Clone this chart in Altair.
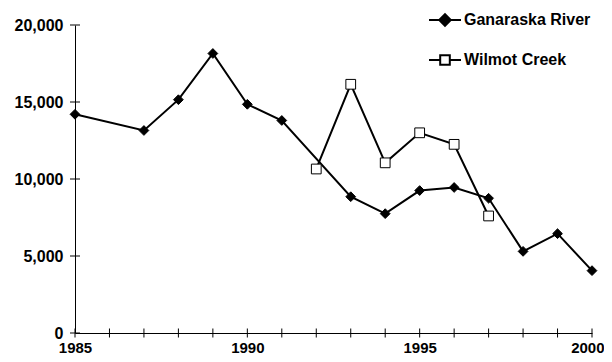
import altair as alt
import pandas as pd

# Data
gan_years = [1985, 1987, 1988, 1989, 1990, 1991, 1993, 1994, 1995, 1996, 1997, 1998, 1999, 2000]
gan_values = [14200, 13150, 15150, 18150, 14850, 13800, 8850, 7750, 9250, 9450, 8750, 5300, 6450, 4050]
wil_years = [1992, 1993, 1994, 1995, 1996, 1997]
wil_values = [10650, 16150, 11050, 13000, 12250, 7600]
series_names = ["Ganaraska River", "Wilmot Creek"]
x_tick_years = list(range(1985, 2001))
x_label_years = [1985, 1990, 1995, 2000]
y_tick_values = [0, 5000, 10000, 15000, 20000]

df = pd.concat([
    pd.DataFrame({"year": gan_years, "value": gan_values, "series": series_names[0]}),
    pd.DataFrame({"year": wil_years, "value": wil_values, "series": series_names[1]}),
])

FONT = "Liberation Sans"

x_scale = alt.Scale(domain=[1985, 2000], nice=False, zero=False)
y_scale = alt.Scale(domain=[0, 20000], nice=False)

x_axis = alt.Axis(values=x_label_years, format="d", ticks=False, labelPadding=7,
                  title=None, grid=False,
                  labelAlign={"condition": {"test": "datum.value == 2000", "value": "right"},
                              "value": "center"},
                  labelOffset={"condition": {"test": "datum.value == 2000", "value": 12},
                               "value": 0})
y_axis = alt.Axis(values=y_tick_values, format=",.0f", ticks=False, labelPadding=12,
                  title=None, grid=False, labelFontSize=16)

x_enc = alt.X("year:Q", scale=x_scale, axis=x_axis, title=None)
y_enc = alt.Y("value:Q", scale=y_scale, axis=y_axis, title=None)

base = alt.Chart(df)

lines = base.mark_line(color="black", strokeWidth=2).encode(
    x=x_enc, y=y_enc, detail="series:N"
)

points = base.mark_point(filled=True, size=95, stroke="black", strokeWidth=1, opacity=1).encode(
    x=x_enc, y=y_enc,
    shape=alt.Shape("series:N", scale=alt.Scale(domain=series_names, range=["diamond", "square"]), legend=None),
    fill=alt.Fill("series:N", scale=alt.Scale(domain=series_names, range=["black", "white"]), legend=None),
)

gan_sym = "M-1,0L1,0M-0.36,0L0,-0.36L0.36,0L0,0.36Z"
wil_sym = "M-1,0L-0.3,0M0.3,0L1,0M-0.3,-0.3L0.3,-0.3L0.3,0.3L-0.3,0.3Z"

def leg():
    return alt.Legend(title=None, orient="none", legendX=353, legendY=-22,
                      symbolSize=1024, symbolOpacity=1, symbolStrokeWidth=2,
                      labelOffset=2, rowPadding=13,
                      padding=0, labelFont=FONT, labelFontSize=16,
                      labelFontWeight="bold", labelColor="black", labelLimit=300)

legend_layer = base.mark_point(filled=True, size=10, strokeWidth=2, opacity=0).encode(
    x=x_enc, y=y_enc,
    shape=alt.Shape("series:N", scale=alt.Scale(domain=series_names, range=[gan_sym, wil_sym]),
                    legend=leg()),
    fill=alt.Fill("series:N", scale=alt.Scale(domain=series_names, range=["black", "white"]),
                  legend=leg()),
    stroke=alt.Stroke("series:N", scale=alt.Scale(domain=series_names, range=["black", "black"]),
                      legend=leg()),
)

xticks = alt.Chart(pd.DataFrame({"year": x_tick_years})).mark_tick(
    orient="vertical", size=9, thickness=1, color="black", opacity=1
).encode(x=alt.X("year:Q", scale=x_scale, axis=x_axis, title=None),
         y=alt.YDatum(0, scale=y_scale, axis=y_axis, title=None))

yticks = alt.Chart(pd.DataFrame({"value": y_tick_values})).mark_tick(
    orient="horizontal", size=10, thickness=1, color="black", opacity=1
).encode(y=alt.Y("value:Q", scale=y_scale, axis=y_axis, title=None),
         x=alt.XDatum(1985, scale=x_scale, axis=x_axis, title=None))

chart = alt.layer(xticks, yticks, lines, points, legend_layer).resolve_scale(
    shape="independent", fill="independent", stroke="independent"
).properties(
    width=517, height=308,
    autosize=alt.AutoSizeParams(type="none"),
    padding={"left": 67, "top": 17, "right": 12, "bottom": 21},
).configure_view(stroke=None).configure_axis(
    domainColor="black", domainWidth=1, labelFont=FONT, labelFontSize=15,
    labelFontWeight="bold", labelColor="black",
).configure_legend(
    labelFont=FONT, labelFontSize=16, labelFontWeight="bold", labelColor="black", labelLimit=300,
)

chart.save("out.html", embed_options={"renderer": "svg", "actions": False})
